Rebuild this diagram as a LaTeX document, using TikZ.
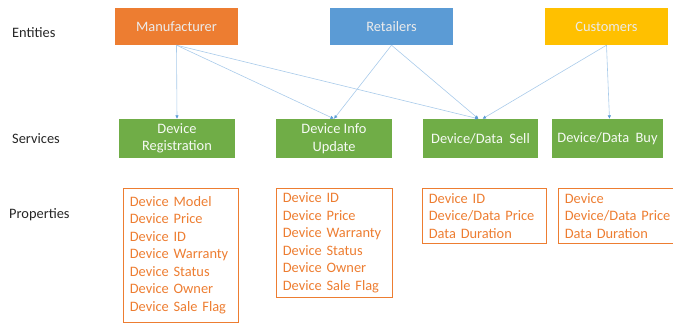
\documentclass[tikz,border=0pt]{standalone}
\usepackage{fontspec}
\setmainfont{Carlito}
\usepackage{tikz}
\usetikzlibrary{arrows}
\usetikzlibrary{arrows.meta}
\usetikzlibrary{positioning}
\definecolor{entorange}{HTML}{ED7D31}
\definecolor{entblue}{HTML}{5B9BD5}
\definecolor{entyellow}{HTML}{FFC000}
\definecolor{srvgreen}{HTML}{70AD47}
\definecolor{linkblue}{HTML}{A9CBEA}
\tikzstyle{entity}=[rectangle, text=white!92!black, minimum width=123pt, minimum height=37pt, inner sep=0pt]
\tikzstyle{service}=[rectangle, fill=srvgreen, text=white!94!srvgreen, minimum height=39pt, inner sep=0pt, align=center]
\tikzstyle{props}=[rectangle, draw=entorange, line width=0.6pt, text=entorange, anchor=north west, inner xsep=6.5pt, inner ysep=0pt, align=left]
\tikzstyle{rowlabel}=[anchor=west, inner sep=0pt, text=black!85]

\begin{document}
\begin{tikzpicture}[x=1pt, y=-1pt, >=latex, font=\fontsize{14.4}{17.5}\selectfont]
	\useasboundingbox (0,0) rectangle (673,322);
	% row titles
	\node (lEnt) at (12,33) [rowlabel] {Entities};
	\node (lSrv) at (12,139) [rowlabel] {Services};
	\node (lPrp) at (9,215) [rowlabel] {Properties};
	% entities
	\node (man) at (176.5,26.5) [entity, fill=entorange] {Manufacturer};
	\node (ret) at (391.5,26.5) [entity, fill=entblue] {Retailers};
	\node (cus) at (606.5,26.5) [entity, fill=entyellow] {Customers};
	% services
	\node (reg) at (177,138.5) [service, minimum width=116pt] {Device\\Registration};
	\node (upd) at (334,138.5) [service, minimum width=116pt] {Device Info\\Update};
	\node (sell) at (480.5,138.5) [service, minimum width=115pt] {Device/Data\ \ Sell};
	\node (buy) at (607.5,138.5) [service, minimum width=111pt] {Device/Data\ \ Buy};
	% properties
	\node (pReg) at (123,188) [props, text width=102pt, minimum height=133.5pt] {Device Model\\Device Price\\Device ID\\Device Warranty\\Device Status\\Device Owner\\Device Sale Flag};
	\node (pUpd) at (276,188) [props, text width=103pt, minimum height=109pt] {Device ID\\Device Price\\Device Warranty\\Device Status\\Device Owner\\Device Sale Flag};
	\node (pSell) at (422,188) [props, text width=111pt, minimum height=55pt] {Device ID\\Device/Data Price\\Data Duration};
	\node (pBuy) at (558,188) [props, text width=120pt, minimum height=55pt] {Device\\Device/Data Price\\Data Duration};
	% who uses which service
	\path[-{Latex[length=3.5pt,width=3.5pt,color=entblue]}, line width=0.6pt, linkblue]
		(man.south) edge (reg.north)
		(man.south) edge (upd.north)
		(man.south) edge ([xshift=-2pt]sell.north)
		(ret.south) edge (upd.north)
		(ret.south) edge ([xshift=-2pt]sell.north)
		(cus.south) edge ([xshift=2pt]sell.north)
		(cus.south) edge ([xshift=2pt]buy.north);
\end{tikzpicture}
\end{document}
